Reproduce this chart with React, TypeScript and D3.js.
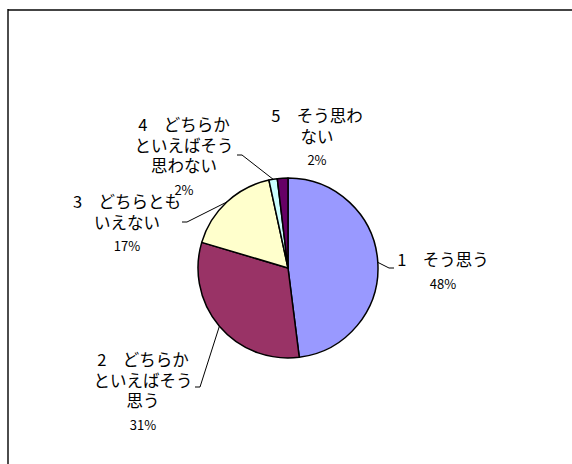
import * as d3 from "d3";

// survey answers, in the order the slices run clockwise from 12 o'clock
const categories = [
  "1　そう思う",
  "2　どちらかといえばそう思う",
  "3　どちらともいえない",
  "4　どちらかといえばそう思わない",
  "5　そう思わない",
];
// label text as it is wrapped in the picture
const categoryLines = [
  ["1　そう思う"],
  ["2　どちらか", "といえばそう", "思う"],
  ["3　どちらとも", "いえない"],
  ["4　どちらか", "といえばそう", "思わない"],
  ["5　そう思わ", "ない"],
];
const values = [48.0, 31.6, 17.0, 1.5, 1.9];
const percentLabels = ["48%", "31%", "17%", "2%", "2%"];
const colors = ["#9999FF", "#993366", "#FFFFCC", "#CCFFFF", "#660066"];

const width = 572,
  height = 464;
const cx = 288,
  cy = 268,
  radius = 90;
const linePitch = 20.5,
  percentGap = 22.5;

// label placement: text centre x, first baseline y, leader elbow/end (null = no leader)
const labelLayout = [
  { x: 443, y: 266, leader: [[389, 268], [394, 268]] },
  { x: 143, y: 366, leader: [[200, 387], [195, 387]] },
  { x: 127, y: 208, leader: [[187, 222], [182, 222]] },
  { x: 184, y: 131, leader: [[242, 155], [237, 155]] },
  { x: 317, y: 122, leader: null },
];

export default function App() {
  const pie = d3
    .pie<number>()
    .sort(null)
    .startAngle(0)
    .endAngle(2 * Math.PI)
    .value((d) => d);
  const arcs = pie(values);
  const arc = d3.arc<d3.PieArcDatum<number>>().innerRadius(0).outerRadius(radius);

  const edgePoint = (a: d3.PieArcDatum<number>) => {
    const mid = (a.startAngle + a.endAngle) / 2;
    return [cx + radius * Math.sin(mid), cy - radius * Math.cos(mid)];
  };
  const line = d3.line();

  return (
    <svg
      width={width}
      height={height}
      style={{ position: "absolute", left: 0, top: 0, background: "white" }}
      fontFamily="'Noto Sans CJK JP', sans-serif"
    >
      <rect width={width} height={height} fill="white" />
      <line x1={8} y1={10} x2={width} y2={10} stroke="#444" strokeWidth={2} />
      <line x1={8} y1={9} x2={8} y2={height} stroke="#000" strokeWidth={1.4} />

      <g transform={`translate(${cx},${cy})`}>
        {arcs.map((a, i) => (
          <path
            key={categories[i]}
            d={arc(a) ?? ""}
            fill={colors[i]}
            stroke="#000"
            strokeWidth={1.5}
            strokeLinejoin="round"
          />
        ))}
      </g>

      {arcs.map((a, i) => {
        const lay = labelLayout[i];
        if (!lay.leader) return null;
        const pts = [edgePoint(a), ...lay.leader] as [number, number][];
        return (
          <path key={"leader" + i} d={line(pts) ?? ""} fill="none" stroke="#000" strokeWidth={1} />
        );
      })}

      {categoryLines.map((lines, i) => {
        const lay = labelLayout[i];
        return (
          <g key={"label" + i} textAnchor="middle" fill="#000">
            {lines.map((t, j) => (
              <text key={j} x={lay.x} y={lay.y + j * linePitch} fontSize={16.5}>
                {t}
              </text>
            ))}
            <text
              x={lay.x}
              y={lay.y + (lines.length - 1) * linePitch + percentGap}
              fontSize={13}
            >
              {percentLabels[i]}
            </text>
          </g>
        );
      })}
    </svg>
  );
}
